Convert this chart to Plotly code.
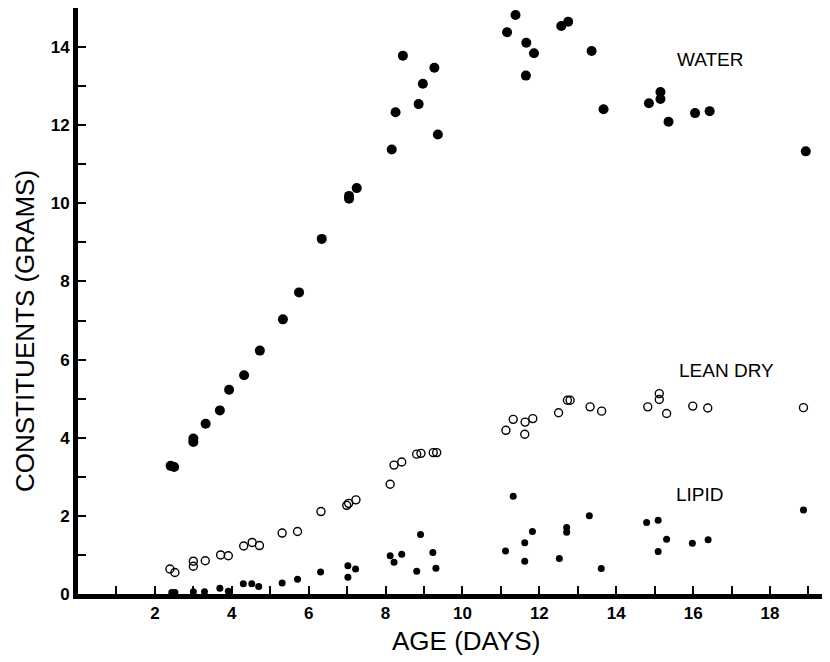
import plotly.graph_objects as go

# Data
water_age = [2.41, 2.50, 3.00, 3.00, 3.32, 3.69, 3.93, 4.32, 4.73, 5.33, 5.75, 6.34,
             7.05, 7.05, 7.25, 8.16, 8.26, 8.45, 8.86, 8.97, 9.27, 9.36,
             11.16, 11.38, 11.66, 11.65, 11.86, 12.57, 12.75,
             13.36, 13.67, 14.85, 15.15, 15.15, 15.36, 16.05, 16.43, 18.93]
water_g = [3.28, 3.25, 3.98, 3.89, 4.36, 4.70, 5.23, 5.60, 6.23, 7.03, 7.72, 9.09,
           10.12, 10.19, 10.39, 11.38, 12.33, 13.78, 12.54, 13.06, 13.47, 11.76,
           14.38, 14.82, 14.11, 13.27, 13.84, 14.54, 14.65,
           13.90, 12.41, 12.56, 12.85, 12.67, 12.09, 12.31, 12.36, 11.33]

lean_age = [2.39, 2.52, 3.00, 3.00, 3.31, 3.71, 3.91, 4.31, 4.53, 4.72, 5.31, 5.71,
            6.32, 6.99, 7.04, 7.23, 8.12, 8.22, 8.42, 8.81, 8.92, 9.24, 9.33,
            11.13, 11.32, 11.63, 11.62, 11.83, 12.50, 12.73, 12.80,
            13.32, 13.62, 14.82, 15.12, 15.12, 15.31, 15.99, 16.38, 18.87]
lean_g = [0.64, 0.55, 0.84, 0.71, 0.85, 1.00, 0.98, 1.23, 1.32, 1.24, 1.56, 1.60,
          2.11, 2.27, 2.32, 2.41, 2.81, 3.30, 3.38, 3.58, 3.60, 3.62, 3.62,
          4.19, 4.47, 4.40, 4.09, 4.49, 4.64, 4.96, 4.96,
          4.79, 4.68, 4.79, 5.13, 4.98, 4.62, 4.81, 4.76, 4.77]

lipid_age = [2.44, 2.52, 3.00, 3.29, 3.69, 3.91, 4.30, 4.52, 4.70, 5.31, 5.71,
             6.31, 7.02, 7.02, 7.22, 8.12, 8.22, 8.42, 8.81, 8.91, 9.23, 9.31,
             11.12, 11.32, 11.62, 11.62, 11.82, 12.52, 12.71, 12.71,
             13.30, 13.61, 14.79, 15.09, 15.09, 15.31, 15.98, 16.39, 18.87]
lipid_g = [0.04, 0.04, 0.06, 0.06, 0.15, 0.07, 0.26, 0.26, 0.19, 0.28, 0.38,
           0.56, 0.72, 0.43, 0.64, 0.98, 0.81, 1.02, 0.58, 1.52, 1.06, 0.66,
           1.10, 2.50, 1.31, 0.84, 1.60, 0.91, 1.70, 1.58,
           2.00, 0.65, 1.83, 1.89, 1.09, 1.40, 1.30, 1.39, 2.15]

series_labels = ["WATER", "LEAN DRY", "LIPID"]
label_x = [16.44, 16.88, 16.18]
label_y = [13.69, 5.73, 2.54]

x_tickvals = [2, 4, 6, 8, 10, 12, 14, 16, 18]
y_tickvals = [0, 2, 4, 6, 8, 10, 12, 14]

fig = go.Figure()
fig.add_trace(go.Scatter(x=water_age, y=water_g, mode="markers", name="WATER",
                         marker=dict(symbol="circle", size=10, color="black")))
fig.add_trace(go.Scatter(x=lean_age, y=lean_g, mode="markers", name="LEAN DRY",
                         marker=dict(symbol="circle-open", size=8, color="black",
                                     line=dict(width=1.4, color="black"))))
fig.add_trace(go.Scatter(x=lipid_age, y=lipid_g, mode="markers", name="LIPID",
                         marker=dict(symbol="circle", size=7, color="black")))

for t, lx, ly in zip(series_labels, label_x, label_y):
    fig.add_annotation(x=lx, y=ly, text=t, showarrow=False,
                       font=dict(family="Liberation Sans", size=19, color="black"))

# page is offset by the browser's 8px body margin
PL, PT, PW, PH = 78, 8, 752, 586
fig.add_annotation(xref="paper", yref="paper", x=(466 - PL) / PW, y=(PT + PH - 641) / PH,
                   xanchor="center", yanchor="middle",
                   text="AGE (DAYS)", showarrow=False,
                   font=dict(family="Liberation Sans", size=26, color="black"))
fig.add_annotation(xref="paper", yref="paper", x=(25 - PL) / PW, y=(PT + PH - 331) / PH,
                   xanchor="center", yanchor="middle",
                   text="CONSTITUENTS (GRAMS)", showarrow=False, textangle=-90,
                   font=dict(family="Liberation Sans", size=26, color="black"))

axis_common = dict(showgrid=False, zeroline=False, showline=True, linewidth=5,
                   linecolor="black", ticks="inside", ticklen=8, tickwidth=2,
                   tickcolor="black",
                   tickfont=dict(family="Liberation Sans", size=17, color="black",
                                 weight="bold"),
                   minor=dict(dtick=1, ticks="inside", ticklen=8, tickwidth=2,
                              tickcolor="black"))

fig.update_xaxes(range=[0, 19.56], tickvals=x_tickvals, **axis_common)
fig.update_yaxes(range=[0, 15.0], tickvals=y_tickvals, **axis_common)

fig.update_layout(width=822, height=654, showlegend=False,
                  paper_bgcolor="white", plot_bgcolor="white",
                  margin=dict(l=70, r=0, t=0, b=68))

fig.write_html("out.html")
